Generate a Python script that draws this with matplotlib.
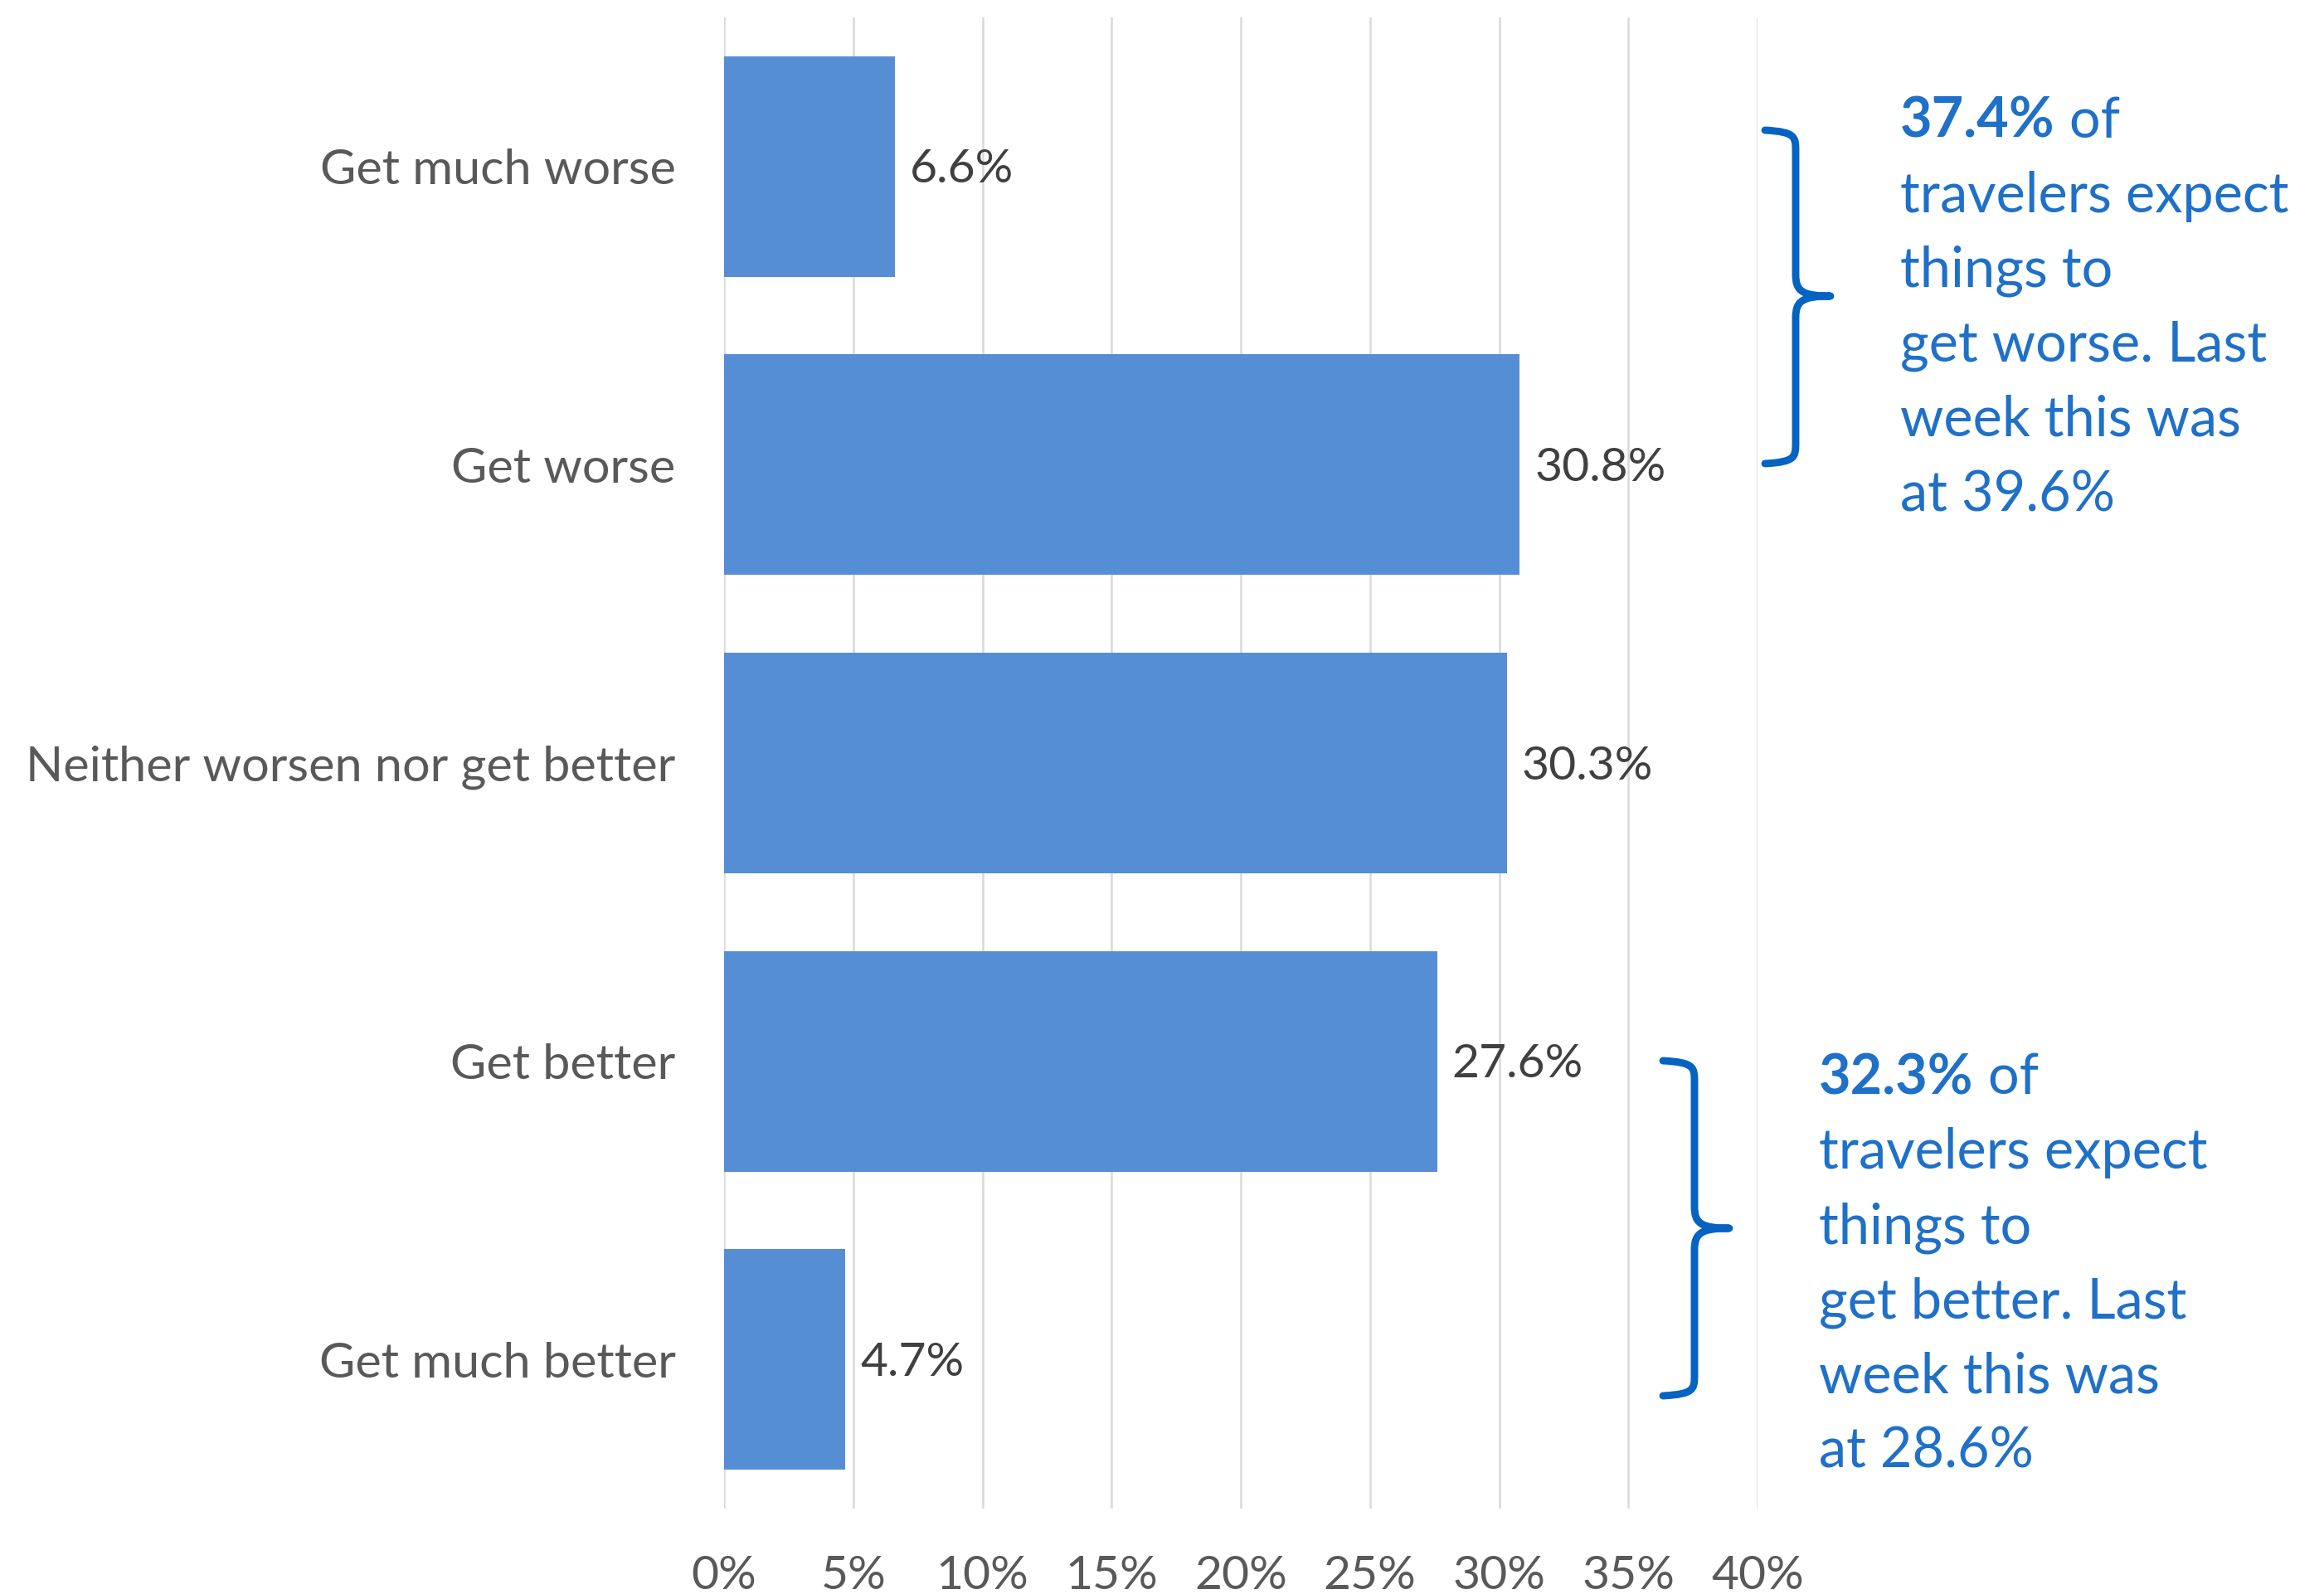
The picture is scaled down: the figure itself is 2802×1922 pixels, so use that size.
import matplotlib.pyplot as plt
from matplotlib.path import Path
from matplotlib.patches import PathPatch

categories = ["Get much worse", "Get worse", "Neither worsen nor get better",
              "Get better", "Get much better"]
values = [6.6, 30.8, 30.3, 27.6, 4.7]
x_ticks = [0, 5, 10, 15, 20, 25, 30, 35, 40]

worse_total = "37.4%"
worse_lines = ["travelers expect", "things to", "get worse. Last",
               "week this was", "at 39.6%"]
better_total = "32.3%"
better_lines = ["travelers expect", "things to", "get better. Last",
                "week this was", "at 28.6%"]

W, H = 2802, 1922
DPI = 200
plt.rcParams["font.family"] = ["Lato", "DejaVu Sans"]

fig = plt.figure(figsize=(W / DPI, H / DPI), dpi=DPI)
ax = fig.add_axes([873 / W, 1 - 1819 / H, (2119 - 873) / W, (1819 - 21) / H])

pos = list(range(len(categories)))
bars = ax.barh(pos, values, height=0.74, color="#558ED5", zorder=2)
ax.set_ylim(len(categories) - 0.5, -0.5)
ax.set_xlim(0, 40)
ax.set_xticks(x_ticks)
ax.set_xticklabels([f"{t}%" for t in x_ticks], fontsize=20.5)
ax.set_yticks(pos)
ax.set_yticklabels(categories, fontsize=21.4, va="center_baseline")
ax.tick_params(length=0, labelcolor="#595959")
ax.tick_params(axis="x", pad=20)
ax.tick_params(axis="y", pad=21)
ax.grid(axis="x", color="#D9D9D9", linewidth=0.9)
ax.set_axisbelow(True)
for s in ax.spines.values():
    s.set_visible(False)

for b, v in zip(bars, values):
    ax.annotate(f"{v}%", (v, b.get_y() + b.get_height() / 2),
                xytext=(6.5, -1.5), textcoords="offset points",
                ha="left", va="center", fontsize=20.5, color="#404040")


def fx(x):
    return x / W


def fy(y):
    return 1 - y / H


def brace(xa, xs, xt, yt, ym, yb, r=26):
    pts = [(xa, yt), (xs, yt + 2), (xs, yt + 8), (xs, yt + r),
           (xs, ym - r),
           (xs, ym - 6), (xs + 8, ym), (xt, ym),
           (xs + 8, ym), (xs, ym + 6), (xs, ym + r),
           (xs, yb - r),
           (xs, yb - 8), (xs, yb - 2), (xa, yb)]
    codes = [Path.MOVETO, Path.CURVE4, Path.CURVE4, Path.CURVE4,
             Path.LINETO,
             Path.CURVE4, Path.CURVE4, Path.CURVE4,
             Path.CURVE4, Path.CURVE4, Path.CURVE4,
             Path.LINETO,
             Path.CURVE4, Path.CURVE4, Path.CURVE4]
    path = Path([(fx(x), fy(y)) for x, y in pts], codes)
    fig.add_artist(PathPatch(path, transform=fig.transFigure, fill=False,
                             edgecolor="#0563C1", linewidth=3.2,
                             capstyle="round", joinstyle="round"))


blue = "#1F70C8"
fs = 24
renderer = fig.canvas.get_renderer()


def note(x, y0, total, lines, step=90):
    t = fig.text(fx(x), fy(y0), total, fontsize=fs, fontweight="bold",
                 color=blue, ha="left", va="baseline")
    x1 = t.get_window_extent(renderer).x1
    fig.text(x1 / W, fy(y0), " of", fontsize=fs, color=blue,
             ha="left", va="baseline")
    for i, line in enumerate(lines):
        fig.text(fx(x), fy(y0 + step * (i + 1)), line, fontsize=fs,
                 color=blue, ha="left", va="baseline")


brace(2128, 2165, 2207, 157, 357, 559)
note(2291, 166, worse_total, worse_lines)

brace(2005, 2043, 2085, 1279, 1481, 1683)
note(2193, 1319, better_total, better_lines)

fig.savefig("out.png", dpi=DPI)
